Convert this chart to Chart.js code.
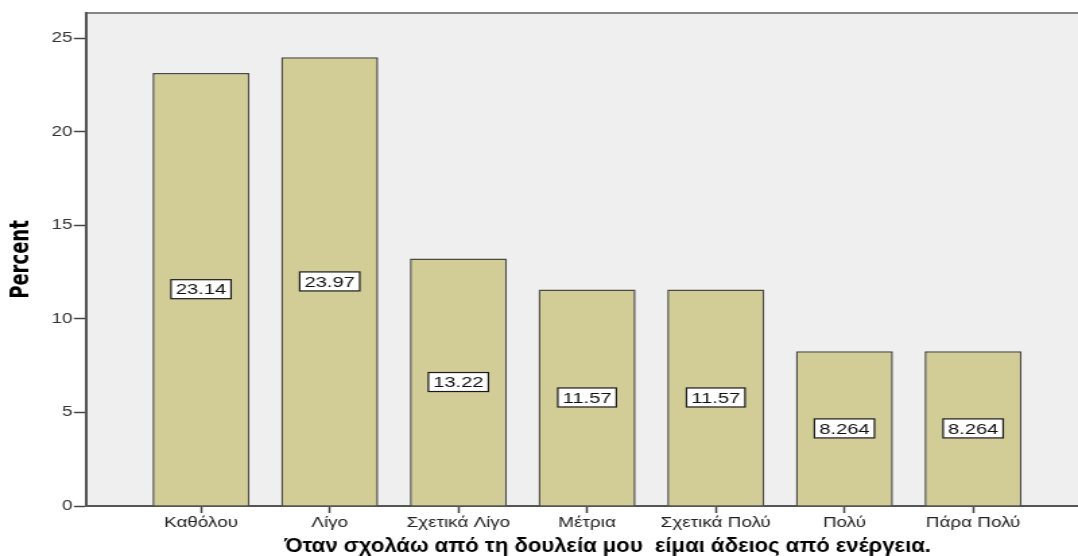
<!DOCTYPE html>
<html>
<head>
<meta charset="utf-8">
<script src="https://cdn.jsdelivr.net/npm/chart.js@4/dist/chart.umd.min.js"></script>
<style>
  html, body { margin: 0; padding: 0; background: #ffffff; overflow: hidden; width: 1078px; height: 556px; }
  /* the chart is laid out at 800px and widened to the full 1078px frame */
  #wrap { width: 800px; height: 556px; transform: scaleX(1.3475); transform-origin: 0 0; }
  canvas { display: block; }
</style>
</head>
<body>
<div id="wrap"><canvas id="chart" width="800" height="556"></canvas></div>
<script>
// Response categories and their percentages
const categories = ['Καθόλου', 'Λίγο', 'Σχετικά Λίγο', 'Μέτρια', 'Σχετικά Πολύ', 'Πολύ', 'Πάρα Πολύ'];
const percents = [23.14, 23.97, 13.22, 11.57, 11.57, 8.264, 8.264];
const valueLabels = ['23.14', '23.97', '13.22', '11.57', '11.57', '8.264', '8.264'];
const yTickValues = [0, 5, 10, 15, 20, 25];
const xTitle = 'Όταν σχολάω από τη δουλεία μου  είμαι άδειος από ενέργεια.';
const yTitle = 'Percent';

const SANS = '"Liberation Sans", Arial, sans-serif';
const NARROW = '"Liberation Sans Narrow", "Arial Narrow", "DejaVu Sans Condensed", sans-serif';

// plot panel: light grey fill and a top frame line
const panelPlugin = {
  id: 'panel',
  beforeDraw(chart) {
    const { ctx, chartArea: a } = chart;
    ctx.save();
    ctx.fillStyle = '#ffffff';
    ctx.fillRect(0, 0, chart.width, chart.height);
    ctx.fillStyle = '#efefef';
    ctx.fillRect(a.left, a.top, a.right - a.left, a.bottom - a.top);
    ctx.strokeStyle = '#858585';
    ctx.lineWidth = 2;
    ctx.beginPath();
    ctx.moveTo(a.left, a.top);
    ctx.lineTo(a.right, a.top);
    ctx.stroke();
    ctx.restore();
  }
};

// boxed value labels in the middle of each bar
const valueBoxPlugin = {
  id: 'valueBoxes',
  afterDatasetsDraw(chart) {
    const { ctx } = chart;
    const meta = chart.getDatasetMeta(0);
    ctx.save();
    ctx.font = '15px ' + SANS;
    ctx.textAlign = 'center';
    ctx.textBaseline = 'middle';
    meta.data.forEach((bar, i) => {
      const text = valueLabels[i];
      const cy = (bar.y + bar.base) / 2;
      const w = ctx.measureText(text).width + 7;
      const h = 19;
      ctx.fillStyle = '#ffffff';
      ctx.fillRect(bar.x - w / 2, cy - h / 2, w, h);
      ctx.strokeStyle = '#1a1a1a';
      ctx.lineWidth = 1.2;
      ctx.strokeRect(bar.x - w / 2, cy - h / 2, w, h);
      ctx.fillStyle = '#111111';
      ctx.fillText(text, bar.x, cy + 1);
    });
    ctx.restore();
  }
};

// category axis title, set slightly right of the panel centre, in a condensed bold face
const xTitlePlugin = {
  id: 'xTitle',
  afterDraw(chart) {
    const { ctx, chartArea: a } = chart;
    const cx = (a.left + a.right) / 2 + 19;
    const squeeze = 0.82;
    ctx.save();
    ctx.translate(cx, 552);
    ctx.scale(squeeze, 1);
    ctx.font = 'bold 20px ' + SANS;
    ctx.fillStyle = '#000000';
    ctx.textAlign = 'center';
    ctx.textBaseline = 'alphabetic';
    ctx.fillText(xTitle, 0, 0);
    ctx.restore();
  }
};

new Chart(document.getElementById('chart'), {
  type: 'bar',
  data: {
    datasets: [{
      data: categories.map((c, i) => ({ x: i, y: percents[i] })),
      backgroundColor: '#d2cd96',
      borderColor: '#4a4a40',
      borderWidth: 1.5,
      barPercentage: 0.754,
      categoryPercentage: 1
    }]
  },
  options: {
    responsive: false,
    animation: false,
    devicePixelRatio: 1,
    layout: { padding: { top: 13, right: 0, bottom: 0, left: 0 } },
    plugins: { legend: { display: false }, tooltip: { enabled: false } },
    scales: {
      x: {
        type: 'linear',
        offset: false,
        min: -0.894,
        max: 6.815,
        afterBuildTicks(scale) { scale.ticks = categories.map((c, i) => ({ value: i })); },
        afterFit(scale) { scale.height = 50; },
        ticks: {
          autoSkip: false,
          maxRotation: 0,
          padding: 2,
          color: '#222222',
          font: { family: SANS, size: 14 },
          callback: (v) => categories[v]
        },
        grid: { offset: false, drawOnChartArea: false, drawTicks: true, tickLength: 7, tickColor: '#444444', tickWidth: 1.5 },
        border: { display: true, color: '#555555', width: 2 },
        title: { display: false }
      },
      y: {
        min: 0,
        max: 26.34,
        afterBuildTicks(scale) { scale.ticks = yTickValues.map(v => ({ value: v })); },
        afterFit(scale) { scale.width = 63.8; },
        ticks: {
          padding: 1,
          color: '#333333',
          font: { family: SANS, size: 14 }
        },
        grid: { drawOnChartArea: false, drawTicks: true, tickLength: 9, tickColor: '#444444', tickWidth: 1.5 },
        border: { display: true, color: '#555555', width: 2 },
        title: {
          display: true,
          text: yTitle,
          color: '#000000',
          font: { family: NARROW, size: 20, weight: 'bold' },
          padding: { top: 4, bottom: 0 }
        }
      }
    }
  },
  plugins: [panelPlugin, valueBoxPlugin, xTitlePlugin]
});
</script>
</body>
</html>
